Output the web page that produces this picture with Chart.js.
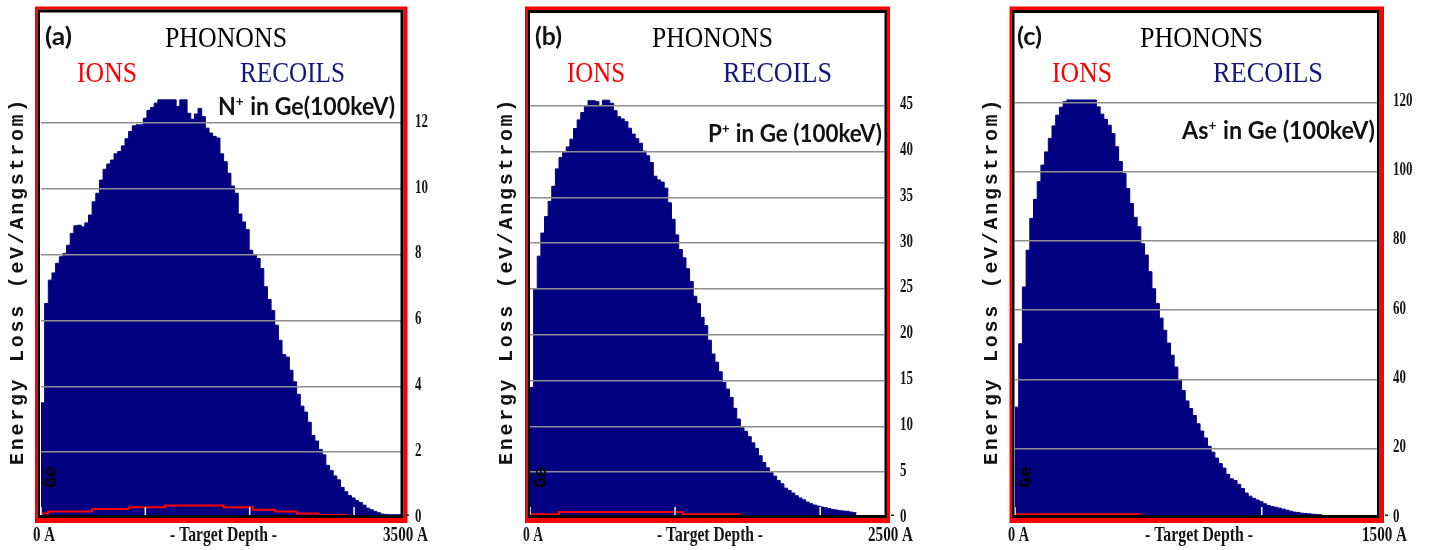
<!DOCTYPE html>
<html>
<head>
<meta charset="utf-8">
<title>Phonon energy loss in Ge</title>
<script src="https://cdn.jsdelivr.net/npm/chart.js@4.4.0/dist/chart.umd.min.js"></script>
<style>
  html, body { margin: 0; padding: 0; background: #fff; overflow: hidden; }
  #wrap { position: relative; width: 1429px; height: 550px; }
  #wrap canvas { position: absolute; top: 0; }
</style>
</head>
<body>
<div id="wrap">
  <canvas id="chartA" width="480" height="550" style="left:0px"></canvas>
  <canvas id="chartB" width="480" height="550" style="left:480px"></canvas>
  <canvas id="chartC" width="469" height="550" style="left:960px"></canvas>
</div>
<script>
// phonon energy loss (eV/Angstrom) per depth bin, 100 keV ions into Ge

// (a) N+ : recoils in 35 A bins, ions in 70 A bins
const binA = 35;
const recoilsA = [3.5, 6.52, 7.23, 7.45, 7.74, 7.94, 8.04, 8.29, 8.65, 8.88,
  8.9, 8.85, 8.97, 9.21, 9.61, 9.87, 10.27, 10.6, 10.76, 10.88,
  11.07, 11.14, 11.31, 11.53, 11.75, 11.92, 11.95, 11.95, 12.15, 12.39,
  12.48, 12.61, 12.71, 12.71, 12.71, 12.71, 12.71, 12.51, 12.71, 12.71,
  12.3, 12.12, 12.28, 12.45, 12.2, 11.85, 11.7, 11.6, 11.55, 11.07,
  10.83, 10.48, 10.09, 9.87, 9.24, 9.0, 8.77, 8.14, 8.01, 7.89,
  7.58, 7.03, 6.64, 6.31, 5.86, 5.4, 4.97, 4.89, 4.49, 4.14,
  3.76, 3.4, 3.22, 2.91, 2.51, 2.34, 2.08, 1.92, 1.6, 1.44,
  1.28, 1.16, 0.93, 0.8, 0.68, 0.61, 0.53, 0.47, 0.39, 0.3,
  0.25, 0.2, 0.16, 0.12, 0.11, 0.1, 0.1, 0.1, 0.1];
const ionBinA = 70;
const ionsA = [0.14, 0.2, 0.2, 0.2, 0.2, 0.2, 0.2, 0.27, 0.27, 0.27,
  0.27, 0.27, 0.33, 0.33, 0.33, 0.33, 0.33, 0.38, 0.38, 0.38,
  0.38, 0.38, 0.38, 0.38, 0.38, 0.33, 0.33, 0.33, 0.33, 0.25,
  0.25, 0.25, 0.2, 0.2, 0.2, 0.14, 0.14, 0.14, 0.09, 0.09,
  0.09, 0.09];
const yTicksA = [0, 2, 4, 6, 8, 10, 12];
const depthTicksA = [0, 1000, 2000, 3000];
const depthLabelsA = ['0 A', '- Target Depth -', '3500 A'];

// (b) P+ : recoils in 25 A bins, ions in 50 A bins
const binB = 25;
const recoilsB = [14.25, 24.95, 28.58, 31.1, 32.9, 34.56, 36.2, 38.1, 39.35, 39.9,
  40.5, 41.35, 42.5, 43.45, 44.25, 45.0, 45.55, 45.55, 45.44, 44.9,
  45.6, 45.6, 45.26, 44.46, 43.8, 43.55, 43.26, 42.54, 41.9, 41.4,
  40.9, 40.04, 39.53, 38.8, 37.3, 36.9, 36.66, 36.0, 34.4, 32.6,
  30.9, 29.3, 28.4, 27.2, 25.8, 24.2, 23.4, 21.9, 21.0, 19.4,
  17.9, 17.0, 15.96, 14.8, 14.07, 13.16, 11.97, 10.8, 9.86, 9.46,
  8.88, 8.2, 7.6, 6.8, 6.06, 5.48, 4.97, 4.57, 4.1, 3.74,
  3.26, 3.0, 2.72, 2.43, 2.18, 1.99, 1.74, 1.56, 1.41, 1.3,
  1.2, 1.12, 1.02, 0.94, 0.87, 0.8, 0.76, 0.73, 0.65, 0.58];
const ionBinB = 50;
const ionsB = [0.4, 0.4, 0.4, 0.4, 0.65, 0.65, 0.65, 0.65, 0.65, 0.65,
  0.65, 0.65, 0.65, 0.65, 0.65, 0.65, 0.65, 0.65, 0.65, 0.65,
  0.65, 0.4, 0.4, 0.4, 0.4, 0.4, 0.4, 0.4, 0.4];
const yTicksB = [0, 5, 10, 15, 20, 25, 30, 35, 40, 45];
const depthTicksB = [0, 1000, 2000];
const depthLabelsB = ['0 A', '- Target Depth -', '2500 A'];

// (c) As+ : recoils in 15 A bins, ions in 30 A bins
const binC = 15;
const recoilsC = [32.0, 50.3, 66.7, 77.3, 86.5, 92.0, 97.1, 101.9, 105.7, 109.6,
  113.2, 116.3, 118.6, 120.2, 120.7, 120.7, 120.7, 120.7, 120.7, 120.7,
  120.7, 120.7, 118.7, 116.6, 115.1, 113.4, 111.0, 107.2, 102.9, 99.5,
  95.1, 90.8, 86.8, 84.1, 79.2, 75.9, 71.1, 66.2, 61.9, 57.7,
  54.2, 50.5, 47.0, 43.6, 39.7, 36.8, 33.8, 31.6, 29.6, 27.2,
  25.1, 23.1, 20.7, 19.0, 17.3, 15.7, 14.4, 12.6, 11.3, 10.8,
  9.7, 8.5, 7.2, 6.3, 5.7, 5.2, 4.7, 4.1, 3.6, 3.3,
  3.1, 2.85, 2.56, 2.27, 1.98, 1.7, 1.6, 1.4, 1.3, 1.2,
  1.1, 1.0, 0.93];
const ionBinC = 30;
const ionsC = [1.1, 1.1, 1.1, 1.1, 1.1, 1.1, 1.1, 1.1, 1.1, 1.1,
  1.1, 1.1, 1.1, 1.1, 1.1, 1.1, 1.1];
const yTicksC = [0, 20, 40, 60, 80, 100, 120];
const depthTicksC = [0, 1000];
const depthLabelsC = ['0 A', '- Target Depth -', '1500 A'];

const NAVY = '#000080';
const RED = '#ff0000';

// histogram bins -> points at left bin edges plus a closing point
function steps(values, bin) {
  const pts = values.map((v, i) => ({ x: i * bin, y: v }));
  pts.push({ x: values.length * bin, y: values[values.length - 1] });
  return pts;
}

function drawScaled(ctx, text, x, y, font, color, sx) {
  ctx.save();
  ctx.font = font;
  ctx.fillStyle = color;
  ctx.textAlign = 'left';
  ctx.textBaseline = 'alphabetic';
  ctx.translate(x, y);
  ctx.scale(sx, 1);
  ctx.fillText(text, 0, 0);
  ctx.restore();
}

function drawFit(ctx, text, x, y, font, color, width) {
  ctx.save();
  ctx.font = font;
  const w = ctx.measureText(text).width;
  ctx.restore();
  drawScaled(ctx, text, x, y, font, color, width / w);
}

// "X+ in Ge (100keV)" with a raised plus sign
function drawIonLabel(ctx, ion, rest, x, y, size, width) {
  const base = 'bold ' + size + 'px Lato';
  const sup = 'bold ' + Math.round(size * 0.6) + 'px Lato';
  ctx.save();
  ctx.font = base;
  const w1 = ctx.measureText(ion).width;
  const w3 = ctx.measureText(rest).width;
  ctx.font = sup;
  const w2 = ctx.measureText('+').width + 1;
  ctx.translate(x, y);
  ctx.scale(width / (w1 + w2 + w3), 1);
  ctx.fillStyle = '#111';
  ctx.textBaseline = 'alphabetic';
  ctx.font = base;
  ctx.fillText(ion, 0, 0);
  ctx.font = sup;
  ctx.fillText('+', w1, -size * 0.36);
  ctx.font = base;
  ctx.fillText(rest, w1 + w2, 0);
  ctx.restore();
}

function ring(ctx, outer, inner, color) {
  ctx.beginPath();
  ctx.rect(outer[0], outer[1], outer[2] - outer[0], outer[3] - outer[1]);
  ctx.rect(inner[0], inner[1], inner[2] - inner[0], inner[3] - inner[1]);
  ctx.fillStyle = color;
  ctx.fill('evenodd');
}

const panelDecor = {
  id: 'panelDecor',
  afterDraw(chart, args, o) {
    const ctx = chart.ctx;
    const L = o.left;
    const xs = chart.scales.x, ys = chart.scales.y;
    ctx.save();
    ctx.translate(-L, 0);

    // white depth ticks along the bottom
    ctx.strokeStyle = '#ffffff';
    ctx.lineWidth = 1.5;
    o.depthTicks.forEach(v => {
      const px = L + xs.getPixelForValue(v);
      ctx.beginPath();
      ctx.moveTo(px, o.inner[3] - 8);
      ctx.lineTo(px, o.inner[3]);
      ctx.stroke();
    });

    // red outer frame, black inner frame
    ring(ctx, o.red, o.black, RED);
    ring(ctx, o.black, o.inner, '#000');

    // energy-loss tick labels on the right
    ys.ticks.forEach(t => {
      const py = ys.getPixelForValue(t.value) - 3;
      drawScaled(ctx, String(t.value), o.tickX, py + 6.5, 'bold 19px "Liberation Serif"', '#141414', 0.68);
    });
    const zeroY = ys.getPixelForValue(0) - 3;
    ctx.fillStyle = '#222';
    ctx.fillRect(o.dashX, zeroY - 0.5, 3, 1.5);

    // headings
    drawFit(ctx, o.tag, o.tagX, 45, 'bold 24px Lato', '#111', o.tagW);
    drawFit(ctx, 'PHONONS', o.phononsX, 47, '30px "Liberation Serif"', '#000', o.phononsW);
    drawFit(ctx, 'IONS', o.ionsX, 82, '30px "Liberation Serif"', RED, o.ionsW);
    drawFit(ctx, 'RECOILS', o.recoilsX, 82, '30px "Liberation Serif"', '#15157f', o.recoilsW);
    drawIonLabel(ctx, o.ion, o.ionRest, o.ionX, o.ionY, 24, o.ionW);

    // depth axis captions
    drawFit(ctx, o.depthLabels[0], o.bx[0], 541, 'bold 21px "Liberation Serif"', '#141414', o.bw[0]);
    drawFit(ctx, o.depthLabels[1], o.bx[1], 541, 'bold 21px "Liberation Serif"', '#141414', o.bw[1]);
    drawFit(ctx, o.depthLabels[2], o.bx[2], 541, 'bold 21px "Liberation Serif"', '#141414', o.bw[2]);

    // vertical axis title, spaced monospace
    ctx.save();
    ctx.translate(o.titleX, 465);
    ctx.rotate(-Math.PI / 2);
    ctx.font = 'bold 20px "Liberation Mono"';
    ctx.fillStyle = '#111';
    ctx.textBaseline = 'middle';
    const title = 'Energy Loss (eV/Angstrom)';
    ctx.letterSpacing = '0px';
    const w0 = ctx.measureText(title).width;
    ctx.letterSpacing = ((368 - w0) / title.length).toFixed(2) + 'px';
    ctx.fillText(title, 0, 0);
    ctx.restore();

    // target element tag inside the plot
    ctx.save();
    ctx.translate(o.geX, 488);
    ctx.rotate(-Math.PI / 2);
    ctx.font = 'bold 18px "Liberation Mono"';
    ctx.fillStyle = '#000';
    ctx.textBaseline = 'middle';
    ctx.fillText('Ge', 0, 0);
    ctx.restore();

    ctx.restore();
  }
};

function makePanel(id, p) {
  const W = document.getElementById(id).width;
  return new Chart(document.getElementById(id), {
    type: 'line',
    data: {
      datasets: [{
        label: 'IONS',
        data: steps(p.ions, p.ionBin),
        borderColor: RED,
        borderWidth: 2,
        fill: false,
        stepped: true,
        pointRadius: 0
      }, {
        label: 'RECOILS',
        data: steps(p.recoils, p.bin),
        borderColor: NAVY,
        backgroundColor: NAVY,
        borderWidth: 1,
        fill: 'origin',
        stepped: true,
        pointRadius: 0
      }]
    },
    options: {
      responsive: false,
      animation: false,
      devicePixelRatio: 1,
      layout: {
        padding: {
          left: p.area[0] - p.left,
          top: p.area[1],
          right: W - (p.area[2] - p.left),
          bottom: 550 - p.area[3]
        }
      },
      plugins: {
        legend: { display: false },
        tooltip: { enabled: false },
        panelDecor: p
      },
      scales: {
        x: { type: 'linear', min: 0, max: p.xMax, display: false },
        y: {
          position: 'right',
          min: 0,
          max: p.yMax,
          afterBuildTicks: s => { s.ticks = p.yTicks.map(v => ({ value: v })); },
          afterFit: s => { s.width = 0; },
          ticks: { display: false },
          border: { display: false },
          grid: { color: '#8e8e8e', lineWidth: 1.5, drawTicks: false, z: 1 }
        }
      }
    },
    plugins: [panelDecor]
  });
}

makePanel('chartA', {
  left: 0, bin: binA, recoils: recoilsA, ionBin: ionBinA, ions: ionsA, yTicks: yTicksA,
  depthTicks: depthTicksA, depthLabels: depthLabelsA,
  xMax: 3450, yMax: 15.38,
  area: [41, 12, 401, 518],
  red: [35, 6.5, 407.5, 523], black: [37.5, 9.5, 403.5, 518], inner: [40, 12.5, 400.5, 515],
  tickX: 415, dashX: 406,
  tag: '(a)', tagX: 45, tagW: 27,
  phononsX: 165, phononsW: 122, ionsX: 77, ionsW: 60, recoilsX: 240, recoilsW: 105,
  ion: 'N', ionRest: ' in Ge(100keV)', ionX: 218, ionY: 115, ionW: 177,
  bx: [33, 170, 383], bw: [22, 107, 45],
  titleX: 18, geX: 51
});

makePanel('chartB', {
  left: 480, bin: binB, recoils: recoilsB, ionBin: ionBinB, ions: ionsB, yTicks: yTicksB,
  depthTicks: depthTicksB, depthLabels: depthLabelsB,
  xMax: 2440, yMax: 55.17,
  area: [530, 12.5, 884, 518],
  red: [525, 6.5, 890, 523], black: [527.5, 10, 887, 518], inner: [530, 13, 884.5, 515],
  tickX: 900, dashX: 891,
  tag: '(b)', tagX: 535, tagW: 27,
  phononsX: 652, phononsW: 121, ionsX: 567, ionsW: 58, recoilsX: 723, recoilsW: 109,
  ion: 'P', ionRest: ' in Ge (100keV)', ionX: 708, ionY: 142, ionW: 174,
  bx: [523, 657, 868], bw: [20, 106, 45],
  titleX: 507, geX: 541
});

makePanel('chartC', {
  left: 960, bin: binC, recoils: recoilsC, ionBin: ionBinC, ions: ionsC, yTicks: yTicksC,
  depthTicks: depthTicksC, depthLabels: depthLabelsC,
  xMax: 1467, yMax: 145.8,
  area: [1015, 13, 1377, 518],
  red: [1009.5, 6.5, 1384, 523], black: [1012, 10, 1379.5, 518], inner: [1014.5, 13, 1377, 515],
  tickX: 1393, dashX: 1385,
  tag: '(c)', tagX: 1017, tagW: 25,
  phononsX: 1140, phononsW: 123, ionsX: 1052, ionsW: 60, recoilsX: 1213, recoilsW: 110,
  ion: 'As', ionRest: ' in Ge (100keV)', ionX: 1182, ionY: 139, ionW: 193,
  bx: [1008, 1145, 1362], bw: [21, 108, 45],
  titleX: 992, geX: 1026
});
</script>
</body>
</html>
